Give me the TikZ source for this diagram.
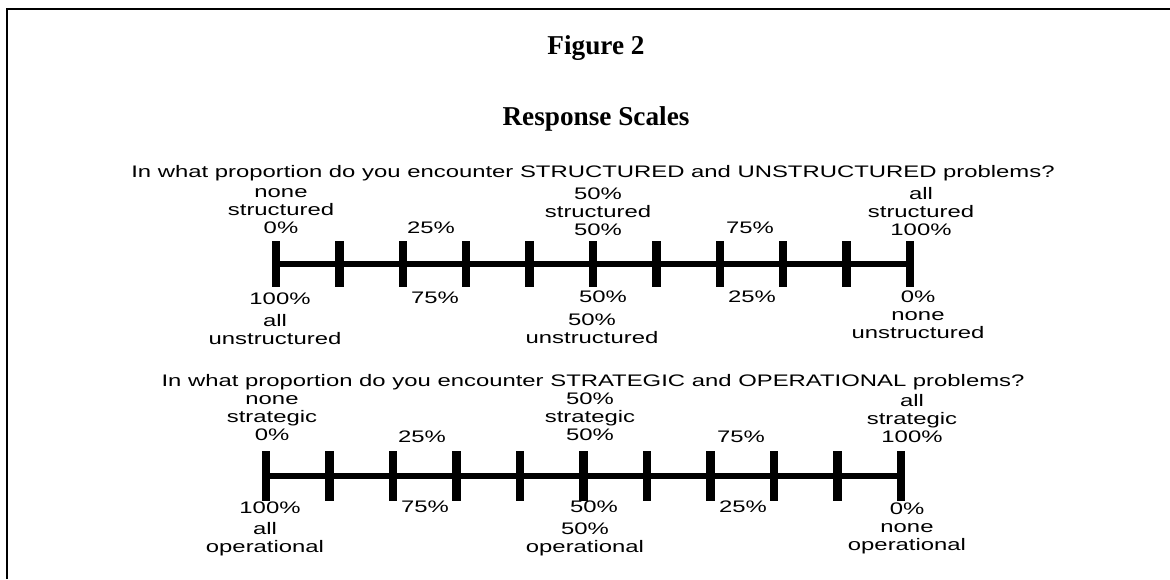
\documentclass[tikz,border=0pt]{standalone}
\usepackage{fontspec}
\setmainfont{Liberation Serif}
\newfontfamily\escalafont{Liberation Sans}[FakeStretch=1.43]
\usetikzlibrary{positioning, calc}

\begin{document}
\begin{tikzpicture}[
		x=0.2mm, y=-0.2mm,
		% Marcas verticales de la escala
		marca/.style = {fill=black, inner sep=0pt, minimum width=1.7mm, minimum height=9.2mm},
		eje/.style = {line width=1.2mm},
		% Textos (base = ultima linea)
		etiq/.style = {font=\escalafont\fontsize{9.5}{10.1}\selectfont, align=center, anchor=base, inner sep=0pt},
		titulo/.style = {font=\bfseries\fontsize{15.5}{18}\selectfont, anchor=base, inner sep=0pt}
		]
		
		\useasboundingbox (0,0) rectangle (1170,579);
		\draw[line width=0.5mm] (7,579) -- (7,9) -- (1170,9);
		
		% --- TITULOS ---
		\node[titulo] (fig) at (596,54) {Figure 2};
		\node[titulo] (resp) at (596,125) {Response Scales};
		
		% --- ESCALA 1: estructurados / no estructurados ---
		\node[etiq] (q1) at (593,177) {In what proportion do you encounter STRUCTURED and UNSTRUCTURED problems?};
		\foreach \i in {0,...,10}
			\node[marca] (a\i) at ({276+63.4*\i},264) {};
		\draw[eje] (a0.center) -- (a10.center);
		
		\node[etiq] (a0u) at (281,233) {none\\structured\\0\%};
		\node[etiq] (a25u) at (431,233) {25\%};
		\node[etiq] (a50u) at (598,235) {50\%\\structured\\50\%};
		\node[etiq] (a75u) at (750,233) {75\%};
		\node[etiq] (a100u) at (921,235) {all\\structured\\100\%};
		
		\node[etiq] (a0d) at (280,304) {100\%};
		\node[etiq] (a0dd) at (275,344) {all\\unstructured};
		\node[etiq] (a25d) at (435,303) {75\%};
		\node[etiq] (a50d) at (603,302) {50\%};
		\node[etiq] (a50dd) at (592,343) {50\%\\unstructured};
		\node[etiq] (a75d) at (752,302) {25\%};
		\node[etiq] (a100d) at (918,338) {0\%\\none\\unstructured};
		
		% --- ESCALA 2: estrategicos / operativos ---
		\node[etiq] (q2) at (593,386) {In what proportion do you encounter STRATEGIC and OPERATIONAL problems?};
		\foreach \i in {0,...,10}
			\node[marca, minimum height=10mm] (b\i) at ({266+63.5*\i},476) {};
		\draw[eje] (b0.center) -- (b10.center);
		
		\node[etiq] (b0u) at (272,440) {none\\strategic\\0\%};
		\node[etiq] (b25u) at (422,442) {25\%};
		\node[etiq] (b50u) at (590,440) {50\%\\strategic\\50\%};
		\node[etiq] (b75u) at (741,442) {75\%};
		\node[etiq] (b100u) at (912,442) {all\\strategic\\100\%};
		
		\node[etiq] (b0d) at (270,513) {100\%};
		\node[etiq] (b0dd) at (265,552) {all\\operational};
		\node[etiq] (b25d) at (425,512) {75\%};
		\node[etiq] (b50d) at (594,512) {50\%};
		\node[etiq] (b50dd) at (585,552) {50\%\\operational};
		\node[etiq] (b75d) at (743,512) {25\%};
		\node[etiq] (b100d) at (907,550) {0\%\\none\\operational};
		
	\end{tikzpicture}
\end{document}
